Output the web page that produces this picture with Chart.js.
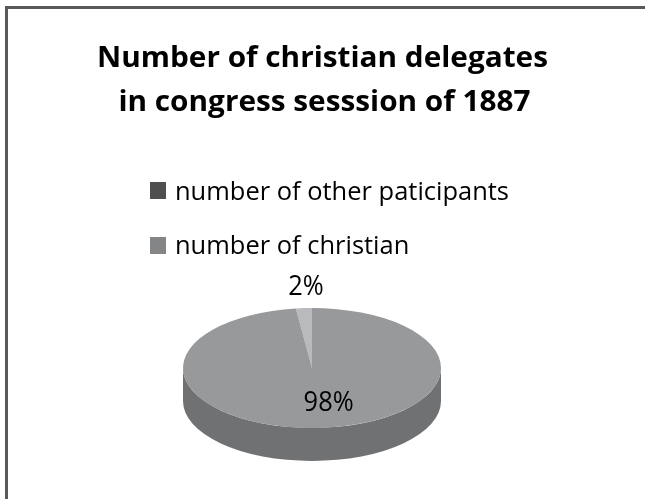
<!DOCTYPE html>
<html><head><meta charset="utf-8">
<script src="https://cdn.jsdelivr.net/npm/chart.js@4/dist/chart.umd.min.js"></script>
<style>html,body{margin:0;padding:0;background:#fff}#wrap{width:645px;height:499px}</style>
</head><body><div id="wrap"><canvas id="c" width="645" height="499"></canvas></div>
<script>
// ---- data ----
const titleLines = ["Number of christian delegates", "in congress sesssion of 1887"];
const categories = ["number of other paticipants", "number of christian"];
const values = [2, 98];
const percentLabels = ["2%", "98%"];

// ---- styles ----
const legendColors = ["#4f4f4f", "#838587"];
const sliceColors = ["#b8babd", "#97999b"];
const sideColors = ["#8a8c8e", "#707173"];
const FONT = "'Open Sans', Lato, sans-serif";
const CY = 368;      // projected ellipse centre y
const RY = 60;       // projected vertical radius
const DEPTH = 33;    // 3D thickness

function sideSegments(s, e) {
  const segs = [];
  for (const k of [-2 * Math.PI, 0, 2 * Math.PI]) {
    const a = Math.max(s, k), b = Math.min(e, Math.PI + k);
    if (a < b) segs.push([a - k, b - k]);
  }
  return segs;
}

// draw text horizontally fitted: sx = horizontal scale
function drawText(ctx, text, x, y, sx, align) {
  ctx.save();
  ctx.translate(x, y);
  ctx.scale(sx, 1);
  ctx.textAlign = align;
  ctx.fillText(text, 0, 0);
  ctx.restore();
}

const pie3d = {
  id: 'pie3d',
  beforeDraw(chart) {
    const ctx = chart.ctx;
    ctx.save();
    ctx.fillStyle = '#fff';
    ctx.fillRect(0, 0, chart.width, chart.height);
    ctx.strokeStyle = '#595959';
    ctx.lineWidth = 3;
    ctx.strokeRect(6.5, 7.5, chart.width + 20, chart.height + 20);
    // title
    ctx.fillStyle = '#000';
    ctx.textBaseline = 'alphabetic';
    ctx.font = "bold 28px " + FONT;
    const tsx = 451 / ctx.measureText(titleLines[0]).width;
    drawText(ctx, titleLines[0], 322.5, 67, tsx, 'center');
    drawText(ctx, titleLines[1], 324.5, 111, tsx, 'center');
    // legend
    ctx.font = "25px " + FONT;
    const lsx = 334 / ctx.measureText(categories[0]).width;
    categories.forEach((lab, i) => {
      ctx.fillStyle = legendColors[i];
      ctx.fillRect(150, 182 + i * 55, 16, 17);
      ctx.fillStyle = '#000';
      drawText(ctx, lab, 175, 200 + i * 54, lsx, 'left');
    });
    ctx.restore();
  },
  beforeDatasetsDraw(chart) {
    const ctx = chart.ctx;
    const meta = chart.getDatasetMeta(0);
    ctx.save();
    meta.data.forEach((arc, i) => {
      const rx = arc.outerRadius;
      for (const [a, b] of sideSegments(arc.startAngle, arc.endAngle)) {
        ctx.beginPath();
        ctx.ellipse(arc.x, CY, rx, RY, 0, a, b, false);
        ctx.ellipse(arc.x, CY + DEPTH, rx, RY, 0, b, a, true);
        ctx.closePath();
        ctx.fillStyle = sideColors[i];
        ctx.fill();
      }
    });
    ctx.restore();
  },
  beforeDatasetDraw(chart) {
    const ctx = chart.ctx;
    const arc = chart.getDatasetMeta(0).data[0];
    ctx.save();
    ctx.translate(arc.x, CY);
    ctx.scale(1, RY / arc.outerRadius);
    ctx.translate(-arc.x, -arc.y);
  },
  afterDatasetDraw(chart) {
    chart.ctx.restore();
  },
  afterDatasetsDraw(chart) {
    const ctx = chart.ctx;
    const meta = chart.getDatasetMeta(0);
    ctx.save();
    ctx.font = "27px " + FONT;
    ctx.fillStyle = '#000';
    ctx.textBaseline = 'middle';
    const psx = 50 / ctx.measureText(percentLabels[1]).width;
    meta.data.forEach((arc, i) => {
      const mid = (arc.startAngle + arc.endAngle) / 2;
      const rx = arc.outerRadius;
      const frac = values[i] / values.reduce((s, v) => s + v, 0);
      let x, y;
      if (frac < 0.1) {
        x = arc.x + rx * Math.cos(mid) + 2;
        y = CY + RY * Math.sin(mid) - 21;
      } else {
        x = arc.x + rx * Math.cos(mid) * 0.57 + 12;
        y = CY + RY * Math.sin(mid) * 0.57 + 1;
      }
      drawText(ctx, percentLabels[i], x, y, psx, 'center');
    });
    ctx.restore();
  }
};

new Chart(document.getElementById('c'), {
  type: 'pie',
  data: {
    labels: categories,
    datasets: [{
      data: values,
      backgroundColor: sliceColors,
      borderWidth: 0,
      offset: 0,
      hoverOffset: 0
    }]
  },
  options: {
    responsive: false,
    animation: false,
    events: [],
    rotation: -values[0] / values.reduce((s, v) => s + v, 0) * 360,
    layout: { padding: { left: 183, right: 204, top: 200, bottom: 41 } },
    plugins: { legend: { display: false }, title: { display: false }, tooltip: { enabled: false } }
  },
  plugins: [pie3d]
});
</script>
</body></html>
